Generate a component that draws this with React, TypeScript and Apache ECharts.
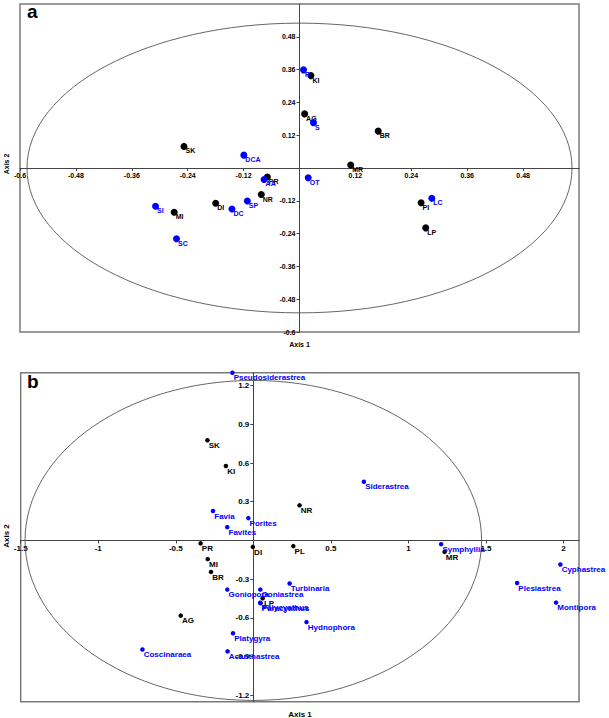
import React, { useEffect, useRef } from "react";
import * as echarts from "echarts";

// ---------- Panel a : sites and benthic categories ----------
const sitesANames = ["SK", "KI", "AG", "BR", "MR", "PR", "NR", "DI", "MI", "PI", "LP"];
const sitesAX = [-0.248, 0.0245, 0.011, 0.169, 0.11, -0.069, -0.082, -0.18, -0.269, 0.261, 0.271];
const sitesAY = [0.079, 0.338, 0.198, 0.135, 0.011, -0.033, -0.097, -0.129, -0.162, -0.127, -0.219];

const benthosNames = ["R", "S", "DCA", "AA", "OT", "SP", "DC", "SI", "SC", "LC"];
const benthosX = [0.0086, 0.03, -0.1195, -0.076, 0.0187, -0.112, -0.145, -0.309, -0.264, 0.284];
const benthosY = [0.359, 0.166, 0.047, -0.042, -0.036, -0.121, -0.15, -0.14, -0.259, -0.111];

const ellipseA = [0, 0, 0.585, 0.53]; // centre x, centre y, radius x, radius y

const ticksAX = [-0.6, -0.48, -0.36, -0.24, -0.12, 0.12, 0.24, 0.36, 0.48];
const ticksAY = [-0.6, -0.48, -0.36, -0.24, -0.12, 0.12, 0.24, 0.36, 0.48];

// ---------- Panel b : sites and coral genera ----------
const sitesBNames = ["SK", "KI", "NR", "PR", "DI", "PL", "MI", "BR", "LP", "AG", "MR"];
const sitesBX = [-0.296, -0.177, 0.298, -0.34, -0.003, 0.258, -0.294, -0.273, 0.06, -0.468, 1.233];
const sitesBY = [0.777, 0.577, 0.272, -0.023, -0.05, -0.044, -0.145, -0.244, -0.448, -0.583, -0.089];

const generaNames = [
  "Pseudosiderastrea", "Siderastrea", "Favia", "Porites", "Favites", "Symphyllia",
  "Cyphastrea", "Plesiastrea", "Montipora", "Turbinaria", "Goniopora", "Goniastrea",
  "Polycyathus", "Paracyathus", "Hydnophora", "Platygyra", "Acanthastrea", "Coscinaraea",
];
const generaX = [-0.135, 0.713, -0.26, -0.032, -0.168, 1.211, 1.98, 1.701, 1.952, 0.234, -0.168, 0.045, 0.044, 0.047, 0.343, -0.131, -0.166, -0.715];
const generaY = [1.3, 0.455, 0.228, 0.173, 0.103, -0.029, -0.187, -0.33, -0.482, -0.334, -0.381, -0.381, -0.483, -0.487, -0.633, -0.72, -0.86, -0.845];

const ellipseB = [0, 0, 1.472, 1.24];

const ticksBX = [-1.5, -1, -0.5, 0.5, 1, 1.5, 2];
const ticksBY = [-1.2, -0.9, -0.6, -0.3, 0.3, 0.6, 0.9, 1.2];

const FONT = '"Liberation Sans", Arial, sans-serif';
const BLUE = "#0000ff";

const GRID_A = { left: 20, top: 4, width: 559, height: 328 };
const GRID_B = { left: 20.7, top: 372.7, width: 558.3, height: 329 };
const RANGE_A = { xMin: -0.6, xMax: 0.6, yMin: -0.6, yMax: 0.6 };
const RANGE_B = { xMin: -1.5, xMax: 2.1, yMin: -1.25, yMax: 1.3 };

function toData(names: string[], xs: number[], ys: number[]) {
  return names.map((n, i) => ({ name: n, value: [xs[i], ys[i]] }));
}

function ellipseSeries(idx: number, e: number[]) {
  return {
    type: "custom",
    xAxisIndex: idx,
    yAxisIndex: idx,
    silent: true,
    z: 1,
    data: [e],
    renderItem: (_p: any, api: any) => {
      const c = api.coord([api.value(0), api.value(1)]);
      const s = api.size([api.value(2), api.value(3)]);
      return {
        type: "ellipse",
        shape: { cx: c[0], cy: c[1], rx: s[0], ry: s[1] },
        style: { fill: "none", stroke: "#555", lineWidth: 0.9 },
      };
    },
  };
}

function scatter(idx: number, data: any[], color: string, size: number, fs: number, pos: number[], z: number) {
  return {
    type: "scatter",
    xAxisIndex: idx,
    yAxisIndex: idx,
    clip: false,
    z,
    symbolSize: size,
    itemStyle: { color, opacity: 1 },
    data,
    label: {
      show: true,
      formatter: "{b}",
      position: pos,
      align: "left",
      verticalAlign: "top",
      color,
      fontSize: fs,
      fontWeight: "bold",
      fontFamily: FONT,
    },
  };
}

// axes are shifted (offset) from the grid edge so that they cross at the origin
function xAxis(idx: number, grid: any, r: any, ticks: number[], fs: number) {
  const zeroFromBottom = ((0 - r.yMin) / (r.yMax - r.yMin)) * grid.height;
  return {
    gridIndex: idx,
    type: "value",
    position: "bottom",
    offset: -zeroFromBottom,
    min: r.xMin,
    max: r.xMax,
    splitLine: { show: false },
    axisLine: { show: true, onZero: false, lineStyle: { color: "#444", width: 1 } },
    axisTick: { show: true, length: 3, customValues: ticks, lineStyle: { color: "#444" } },
    axisLabel: {
      customValues: ticks,
      formatter: (v: number) => String(v),
      fontSize: fs,
      fontWeight: "bold",
      fontFamily: FONT,
      color: "#000",
      margin: 4,
    },
  };
}

function yAxis(idx: number, grid: any, r: any, ticks: number[], fs: number) {
  const zeroFromLeft = ((0 - r.xMin) / (r.xMax - r.xMin)) * grid.width;
  return {
    gridIndex: idx,
    type: "value",
    position: "left",
    offset: -zeroFromLeft,
    min: r.yMin,
    max: r.yMax,
    splitLine: { show: false },
    axisLine: { show: true, onZero: false, lineStyle: { color: "#444", width: 1 } },
    axisTick: { show: true, length: 3, customValues: ticks, lineStyle: { color: "#444" } },
    axisLabel: {
      customValues: ticks,
      formatter: (v: number) => String(v),
      fontSize: fs,
      fontWeight: "bold",
      fontFamily: FONT,
      color: "#000",
      margin: 4,
    },
  };
}

export default function App() {
  const ref = useRef<HTMLDivElement>(null);

  useEffect(() => {
    if (!ref.current) return;
    const chart = echarts.init(ref.current, undefined, { renderer: "svg" });
    const gridStyle = { show: true, borderColor: "#7a7a7a", borderWidth: 1.5, backgroundColor: "transparent" };
    const option: any = {
      animation: false,
      backgroundColor: "#fff",
      grid: [
        { ...GRID_A, ...gridStyle },
        { ...GRID_B, ...gridStyle },
      ],
      xAxis: [xAxis(0, GRID_A, RANGE_A, ticksAX, 7), xAxis(1, GRID_B, RANGE_B, ticksBX, 8)],
      yAxis: [yAxis(0, GRID_A, RANGE_A, ticksAY, 7), yAxis(1, GRID_B, RANGE_B, ticksBY, 8)],
      series: [
        ellipseSeries(0, ellipseA),
        scatter(0, toData(sitesANames, sitesAX, sitesAY), "#000", 7, 7, [5, 4.5], 2),
        scatter(0, toData(benthosNames, benthosX, benthosY), BLUE, 7, 7, [5, 4.5], 3),
        ellipseSeries(1, ellipseB),
        scatter(1, toData(sitesBNames, sitesBX, sitesBY), "#000", 4.5, 8, [3.5, 3.5], 2),
        scatter(1, toData(generaNames, generaX, generaY), BLUE, 4.5, 8, [3.5, 3.5], 3),
      ],
      graphic: [
        { type: "text", left: 27, top: 2, style: { text: "a", font: `bold 19px ${FONT}`, fill: "#000" } },
        { type: "text", left: 27, top: 372, style: { text: "b", font: `bold 19px ${FONT}`, fill: "#000" } },
        { type: "text", x: 299.5, y: 344, style: { text: "Axis 1", font: `bold 7px ${FONT}`, fill: "#000", align: "center", verticalAlign: "middle" } },
        { type: "text", x: 300, y: 714, style: { text: "Axis 1", font: `bold 8px ${FONT}`, fill: "#000", align: "center", verticalAlign: "middle" } },
        { type: "text", x: 6, y: 164, rotation: Math.PI / 2, style: { text: "Axis 2", font: `bold 7px ${FONT}`, fill: "#000", align: "center", verticalAlign: "middle" } },
        { type: "text", x: 6, y: 536, rotation: Math.PI / 2, style: { text: "Axis 2", font: `bold 8px ${FONT}`, fill: "#000", align: "center", verticalAlign: "middle" } },
      ],
    };
    chart.setOption(option);
    return () => chart.dispose();
  }, []);

  return (
    <div
      ref={ref}
      style={{ position: "fixed", left: 0, top: 0, width: 609, height: 718, background: "#fff" }}
    />
  );
}
